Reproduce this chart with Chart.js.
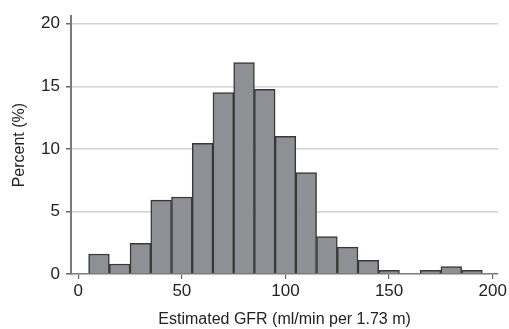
<!DOCTYPE html>
<html>
<head>
<meta charset="utf-8">
<script src="https://cdn.jsdelivr.net/npm/chart.js@4"></script>
<style>
  html, body { margin: 0; padding: 0; background: #fff; }
  #wrap { width: 509px; height: 329px; }
</style>
</head>
<body>
<div id="wrap"><canvas id="hist" width="509" height="329"></canvas></div>
<script>
// bin centres (width 10) and percent per bin
const binCenters = [10, 20, 30, 40, 50, 60, 70, 80, 90, 100, 110, 120, 130, 140, 150, 160, 170, 180, 190];
const percents   = [1.6, 0.8, 2.45, 5.9, 6.15, 10.45, 14.5, 16.9, 14.75, 11.0, 8.1, 3.0, 2.15, 1.1, 0.3, 0, 0.3, 0.6, 0.3];
const xTicks = [0, 50, 100, 150, 200];
const yTicks = [0, 5, 10, 15, 20];

const font = "'Liberation Sans', Arial, sans-serif";

const ctx = document.getElementById('hist').getContext('2d');
new Chart(ctx, {
  type: 'bar',
  data: {
    datasets: [{
      data: binCenters.map((c, i) => ({ x: c, y: percents[i] })),
      backgroundColor: '#8f9095',
      borderColor: '#383838',
      borderWidth: 1.5,
      barPercentage: 1,
      categoryPercentage: 1,
      grouped: false,
    }]
  },
  options: {
    responsive: false,
    animation: false,
    layout: { padding: { top: 15, right: 9, left: 0, bottom: 0 } },
    plugins: { legend: { display: false }, tooltip: { enabled: false } },
    scales: {
      x: {
        type: 'linear',
        offset: false,
        min: -3.5,
        max: 202.6,
        afterBuildTicks: (s) => { s.ticks = xTicks.map(v => ({ value: v })); },
        afterFit: (s) => { s.height = 55; },
        grid: { display: true, offset: false, drawOnChartArea: false, drawTicks: true, tickLength: 5, tickColor: '#666', lineWidth: 1.2 },
        border: { display: true, color: '#7a7a7a', width: 1.5 },
        ticks: {
          color: '#222',
          font: { family: font, size: 17 },
          padding: 2,
        },
        title: {
          display: true,
          text: 'Estimated GFR (ml/min per 1.73 m)',
          color: '#222',
          font: { family: font, size: 16 },
          padding: { top: 2, bottom: 0 },
        },
      },
      y: {
        min: 0,
        max: 20.6,
        afterBuildTicks: (s) => { s.ticks = yTicks.map(v => ({ value: v })); },
        afterFit: (s) => { s.width = 71; },
        grid: {
          color: (c) => c.tick && c.tick.value === 0 ? 'rgba(0,0,0,0)' : '#d2d2d2',
          lineWidth: 1.5,
          tickColor: '#666',
          tickLength: 5,
        },
        border: { display: true, color: '#7a7a7a', width: 2 },
        ticks: {
          color: '#222',
          font: { family: font, size: 17 },
          padding: 6,
        },
        title: {
          display: true,
          text: 'Percent (%)',
          color: '#222',
          font: { family: font, size: 16 },
          padding: { top: 10, bottom: 4 },
        },
      },
    },
  },
});
</script>
</body>
</html>
